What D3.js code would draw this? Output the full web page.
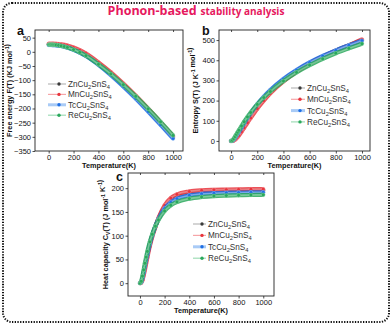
<!DOCTYPE html>
<html><head><meta charset="utf-8">
<script src="https://cdn.jsdelivr.net/npm/d3@7"></script>
<style>body{margin:0;background:#fff}svg{display:block}</style>
</head><body>
<script>
// ---------- DATA ----------
const temps = [0,10,20,30,40,50,60,80,100,125,150,200,250,300,400,500,600,700,800,900,1000];
const materials = ["Zn","Mn","Tc","Re"];
const xTicks = [0,200,400,600,800,1000];
// Free energy F(T) kJ/mol
const freeZn = [27,27,27,26.9,26.7,26.4,26.1,25.1,23.6,21.2,18.1,10.3,0.2,-11.8,-43,-78,-118,-160,-206,-253,-301];
const freeMn = [28.5,28.5,28.5,28.5,28.4,28.3,28.1,27.5,26.5,24.6,22,15,5.5,-6,-37,-72,-112,-155,-201,-249,-298];
const freeTc = [24,24,24,23.9,23.7,23.4,23,22,20.5,18,14.9,7,-3,-15,-46,-82,-122,-165,-211,-258,-306];
const freeRe = [25.5,25.5,25.4,25.2,24.9,24.5,24,22.8,21.1,18.6,15.5,7.8,-2,-13.5,-44,-78,-116,-157,-201,-247,-295];
const freeTicks = [-350,-300,-250,-200,-150,-100,-50,0,50];
// Entropy S(T) J/K/mol
const entZn = [0,1,5,12,21,30,40,60,81,106,130,175,214,248,303,348,386,419,448,474,500];
const entMn = [0,0.3,2,6,12,19,27,45,65,90,114,160,200,236,295,343,383,417,447,474,503];
const entTc = [0,1.5,7,15,25,35,45,66,88,114,138,182,220,253,308,352,389,421,449,474,497];
const entRe = [0,3,11,21,32,43,53,74,95,119,141,181,215,245,297,340,376,407,435,459,482];
const entTicks = [0,100,200,300,400,500];
// Heat capacity Cv(T) J/mol/K
const cvZn = [0,2,10,22,35,48,60,82,101,120,136,160,174,182,189,192,193.5,194,194.5,195,195];
const cvMn = [0,0.8,6,16,28,41,54,78,98,118,137,164,179,187,193,195.5,196.5,197,197.5,198,198];
const cvTc = [0,2.2,11,23,36,49,61,83,101,120,135,157,170,178,185,188,189.5,190.3,190.8,191.2,191.5];
const cvRe = [0,4,15,28,42,55,67,87,103,120,133,152,164,171,178,181.5,183.5,184.5,185.2,185.7,186];
const cvTicks = [0,50,100,150,200];

const colors = {Zn:"#3a3a3a", Mn:"#e8343c", Tc:"#1f6fe5", Re:"#2aa85c"};
const tints  = {Zn:"#b8b8b8", Mn:"#f6a5a8", Tc:"#a9cbf6", Re:"#9fdcb6"};
const labels = materials;

const W=392,H=325;
const svg = d3.select("body").append("svg").attr("width",W).attr("height",H)
  .style("font-family","'Liberation Sans', Arial, sans-serif");

// border
svg.append("rect").attr("x",3).attr("y",3).attr("width",386).attr("height",319)
  .attr("rx",9).attr("fill","none").attr("stroke","#111").attr("stroke-width",2)
  .attr("stroke-dasharray","1.3,1.4");

// title
const title = svg.append("text").attr("x",196).attr("y",15).attr("text-anchor","middle")
  .style("font-family","'Open Sans', sans-serif").style("font-weight","bold").attr("fill","#e6195e");
title.append("tspan").attr("font-size",12.5).text("Phonon-based");
title.append("tspan").attr("font-size",10).attr("dx",4).text("stability analysis");

function compound(sel, m){
  sel.append("tspan").text(m+"Cu");
  sel.append("tspan").attr("font-size","0.7em").attr("dy",2).text("2");
  sel.append("tspan").attr("dy",-2).text("SnS");
  sel.append("tspan").attr("font-size","0.7em").attr("dy",2).text("4");
}

function panel(cfg){
  const g = svg.append("g");
  const x = d3.scaleLinear().domain(cfg.xd).range([cfg.x0,cfg.x1]);
  const y = d3.scaleLinear().domain(cfg.yd).range([cfg.y1,cfg.y0]);
  // frame
  g.append("rect").attr("x",cfg.x0).attr("y",cfg.y0).attr("width",cfg.x1-cfg.x0).attr("height",cfg.y1-cfg.y0)
    .attr("fill","none").attr("stroke","#222").attr("stroke-width",0.9);
  const ax = g.append("g").attr("transform",`translate(0,${cfg.y1})`)
    .call(d3.axisBottom(x).tickValues(xTicks).tickFormat(d3.format("d")).tickSize(2.5).tickPadding(1));
  const ay = g.append("g").attr("transform",`translate(${cfg.x0},0)`)
    .call(d3.axisLeft(y).tickValues(cfg.yt).tickFormat(d3.format("d")).tickSize(2.5).tickPadding(1.5));
  const at = g.append("g").attr("transform",`translate(0,${cfg.y0})`)
    .call(d3.axisTop(x).tickValues(xTicks).tickSize(-2).tickFormat(""));
  [ax,ay,at].forEach(a=>{
    a.select(".domain").remove();
    a.selectAll("line").attr("stroke","#222").attr("stroke-width",0.8);
    a.selectAll("text").attr("font-size",7.5).attr("fill","#111").style("font-family","'Liberation Sans', Arial, sans-serif");
  });
  // data
  const line = d3.line().x((d,i)=>x(temps[i])).y(d=>y(d)).curve(d3.curveMonotoneX);
  cfg.series.forEach((s,k)=>{
    const m = labels[k];
    g.append("path").attr("d",line(s)).attr("fill","none").attr("stroke",colors[m]).attr("stroke-width",4.2)
      .attr("stroke-linejoin","round").attr("opacity",0.85);
    g.append("path").attr("d",line(s)).attr("fill","none").attr("stroke",tints[m]).attr("stroke-width",1.6).attr("opacity",0.6);
    g.selectAll(null).data(s).enter().append("circle")
      .attr("cx",(d,i)=>x(temps[i])).attr("cy",d=>y(d)).attr("r",1.9)
      .attr("fill",colors[m]).attr("stroke",tints[m]).attr("stroke-width",0.4);
  });
  // legend
  labels.forEach((m,k)=>{
    const ly = cfg.ly + k*cfg.lsp;
    g.append("line").attr("x1",cfg.lx).attr("x2",cfg.lx+cfg.ll).attr("y1",ly).attr("y2",ly)
      .attr("stroke",tints[m]).attr("stroke-width",m==="Tc"?3:1.2);
    g.append("circle").attr("cx",cfg.lx+cfg.ld).attr("cy",ly).attr("r",1.7).attr("fill",colors[m]);
    const t = g.append("text").attr("x",cfg.lx+cfg.lt).attr("y",ly+3).attr("font-size",8.2).attr("fill","#333");
    compound(t, m);
  });
  // axis titles
  g.append("text").attr("x",(cfg.x0+cfg.x1)/2).attr("y",cfg.xlY).attr("text-anchor","middle")
    .attr("font-size",7.3).attr("font-weight","bold").attr("fill","#111").text("Temperature(K)");
  const yl = g.append("text").attr("transform",`translate(${cfg.ylX},${(cfg.y0+cfg.y1)/2}) rotate(-90)`)
    .attr("text-anchor","middle").attr("font-size",7.3).attr("font-weight","bold").attr("fill","#111");
  cfg.ylab(yl);
  g.append("text").attr("x",cfg.px).attr("y",cfg.py).attr("font-size",12.5).attr("font-weight","bold")
    .attr("fill","#111").text(cfg.plabel);
}

function sup(t, s){ t.append("tspan").attr("font-size","0.7em").attr("dy",-3).text(s); t.append("tspan").attr("dy",3).text(""); }

panel({x0:35,x1:183,y0:30,y1:151,xd:[-110,1080],yd:[-350,77],yt:freeTicks,
  series:[freeZn,freeMn,freeTc,freeRe], lx:48,ll:18,ld:11,lt:20,ly:84,lsp:10.4, xlY:167.5, ylX:12, px:17,py:34.5, plabel:"a",
  ylab:t=>{t.append("tspan").text("Free energy F(T) (KJ mol"); sup(t,"-1"); t.append("tspan").text(")");}});
panel({x0:219,x1:370,y0:30,y1:151,xd:[-92,1061],yd:[-50,550],yt:entTicks,
  series:[entZn,entMn,entTc,entRe], lx:291,ll:14,ld:9,lt:16,ly:88,lsp:11.3, xlY:167.5, ylX:198, px:202,py:34.5, plabel:"b",
  ylab:t=>{t.append("tspan").text("Entropy S(T) (J K"); sup(t,"-1"); t.append("tspan").text(" mol"); sup(t,"-1"); t.append("tspan").text(")");}});
panel({x0:128,x1:274,y0:173,y1:296,xd:[-97,1087],yd:[-27,232],yt:cvTicks,
  series:[cvZn,cvMn,cvTc,cvRe], lx:193,ll:13,ld:9,lt:15,ly:224,lsp:11.4, xlY:312.5, ylX:108, px:116,py:181, plabel:"c",
  ylab:t=>{t.append("tspan").text("Heat capacity C"); t.append("tspan").attr("font-size","0.7em").attr("dy",1.5).text("V");
    t.append("tspan").attr("dy",-1.5).text("(T) (J mol"); sup(t,"-1"); t.append("tspan").text(" K"); sup(t,"-1"); t.append("tspan").text(")");}});
</script>
</body></html>
